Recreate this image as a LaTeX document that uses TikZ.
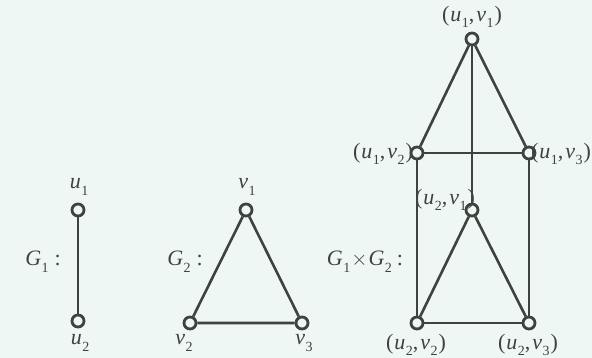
\documentclass[tikz,border=0pt]{standalone}
\usepackage{fontspec}
\setmainfont{Liberation Serif}
\definecolor{bgmint}{HTML}{EEF7F3}
\definecolor{edgegray}{HTML}{3E433F}
\newcommand{\vlab}[2]{\textit{#1}\kern0.5pt\raisebox{-0.3em}{\fontsize{14}{14}\selectfont #2}}
\newcommand{\plab}[4]{(\kern1pt\vlab{#1}{#2},\kern2pt\vlab{#3}{#4}\kern1pt)}
\begin{document}
\begin{tikzpicture}[x=1pt, y=-1pt,
    vtx/.style={circle, draw=edgegray, line width=2.8pt, fill=bgmint,
                inner sep=0pt, minimum size=12pt},
    lbl/.style={text=edgegray, inner sep=0pt,
                font=\fontsize{22}{26}\selectfont},
    edg/.style={edgegray, line width=2.6pt}]
        \fill[bgmint] (0, 0) rectangle (592, 358);
        \useasboundingbox (0, 0) rectangle (592, 358);
        % G_1
        \node[vtx] (u1) at (78, 210) {};
        \node[vtx] (u2) at (78, 321) {};
        \draw[edg] (u1) -- (u2);
        \node[lbl] (lu1) at (79, 187) {\vlab{u}{1}};
        \node[lbl] (lu2) at (80, 343) {\vlab{u}{2}};
        \node[lbl] (g1) at (43, 262) {\vlab{G}{1}\kern6pt:};
        % G_2
        \node[vtx] (v1) at (246, 210) {};
        \node[vtx] (v2) at (190, 323) {};
        \node[vtx] (v3) at (302, 323) {};
        \draw[edg] (v1) -- (v2) -- (v3) -- (v1);
        \node[lbl] (lv1) at (247, 187) {\vlab{v}{1}};
        \node[lbl] (lv2) at (184, 343) {\vlab{v}{2}};
        \node[lbl] (lv3) at (304, 343) {\vlab{v}{3}};
        \node[lbl] (g2) at (185, 262) {\vlab{G}{2}\kern6pt:};
        % G_1 x G_2
        \foreach \n/\x/\y in {11/472/39, 12/417/153, 13/529/153,
                              21/472/210, 22/417/323, 23/529/323} {
            \node[vtx] (p\n) at (\x, \y) {};
        }
        \foreach \a/\b in {11/12, 11/13, 12/13, 21/22, 21/23, 22/23,
                           11/21, 12/22, 13/23} {
            \draw[edg] (p\a) -- (p\b);
        }
        \node[lbl] (lp11) at (472, 17) {\plab{u}{1}{v}{1}};
        \node[lbl] (lp12) at (383, 154) {\plab{u}{1}{v}{2}};
        \node[lbl] (lp13) at (561, 154) {\plab{u}{1}{v}{3}};
        \node[lbl] (lp21) at (445, 200) {\plab{u}{2}{v}{1}};
        \node[lbl] (lp22) at (416, 345) {\plab{u}{2}{v}{2}};
        \node[lbl] (lp23) at (528, 345) {\plab{u}{2}{v}{3}};
        \node[lbl] (g12) at (365, 262) {\vlab{G}{1}\kern1pt$\times$\kern1pt\vlab{G}{2}\kern5pt:};
\end{tikzpicture}
\end{document}
